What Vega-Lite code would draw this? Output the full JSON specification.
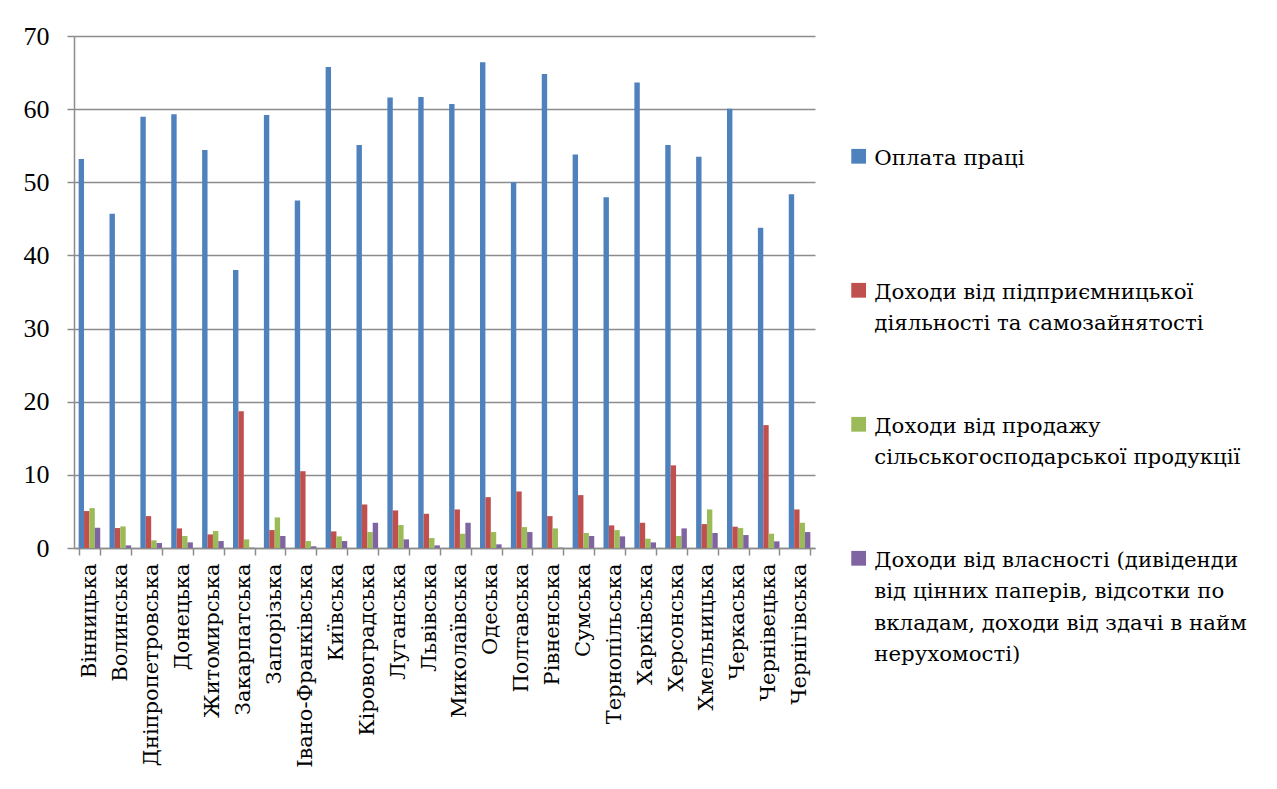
{
  "$schema": "https://vega.github.io/schema/vega-lite/v6.json",
  "width": 741,
  "height": 512,
  "autosize": "none",
  "padding": {"left": 74, "top": 36, "right": 462, "bottom": 241},
  "background": "white",
  "data": {
    "values": [
      {"region": "Вінницька", "w": 53.2, "e": 5.05, "s": 5.45, "p": 2.77},
      {"region": "Волинська", "w": 45.7, "e": 2.73, "s": 2.95, "p": 0.36},
      {"region": "Дніпропетровська", "w": 58.95, "e": 4.36, "s": 1.05, "p": 0.68},
      {"region": "Донецька", "w": 59.3, "e": 2.68, "s": 1.64, "p": 0.77},
      {"region": "Житомирська", "w": 54.4, "e": 1.86, "s": 2.32, "p": 0.95},
      {"region": "Закарпатська", "w": 38.0, "e": 18.7, "s": 1.18, "p": 0.05},
      {"region": "Запорізька", "w": 59.2, "e": 2.45, "s": 4.18, "p": 1.64},
      {"region": "Івано-Франківська", "w": 47.5, "e": 10.5, "s": 0.95, "p": 0.23},
      {"region": "Київська", "w": 65.75, "e": 2.27, "s": 1.59, "p": 0.95},
      {"region": "Кіровоградська", "w": 55.1, "e": 5.95, "s": 2.18, "p": 3.45},
      {"region": "Луганська", "w": 61.6, "e": 5.14, "s": 3.14, "p": 1.18},
      {"region": "Львівська", "w": 61.65, "e": 4.68, "s": 1.36, "p": 0.36},
      {"region": "Миколаївська", "w": 60.7, "e": 5.27, "s": 1.95, "p": 3.45},
      {"region": "Одеська", "w": 66.4, "e": 6.95, "s": 2.18, "p": 0.5},
      {"region": "Полтавська", "w": 50.0, "e": 7.73, "s": 2.86, "p": 2.18},
      {"region": "Рівненська", "w": 64.8, "e": 4.36, "s": 2.68, "p": 0.05},
      {"region": "Сумська", "w": 53.8, "e": 7.23, "s": 2.05, "p": 1.64},
      {"region": "Тернопільська", "w": 47.95, "e": 3.09, "s": 2.45, "p": 1.59},
      {"region": "Харківська", "w": 63.65, "e": 3.45, "s": 1.27, "p": 0.77},
      {"region": "Херсонська", "w": 55.1, "e": 11.3, "s": 1.64, "p": 2.68},
      {"region": "Хмельницька", "w": 53.5, "e": 3.27, "s": 5.27, "p": 2.05},
      {"region": "Черкаська", "w": 60.05, "e": 2.91, "s": 2.73, "p": 1.77},
      {"region": "Чернівецька", "w": 43.8, "e": 16.8, "s": 1.95, "p": 0.91},
      {"region": "Чернігівська", "w": 48.35, "e": 5.27, "s": 3.45, "p": 2.18}
    ]
  },
  "transform": [{"fold": ["w", "e", "s", "p"], "as": ["series", "value"]}],
  "mark": {"type": "bar"},
  "encoding": {
    "x": {
      "field": "region",
      "type": "nominal",
      "sort": null,
      "scale": {"paddingInner": 0.3, "paddingOuter": 0.15},
      "axis": {
        "title": null,
        "labelAngle": -90,
        "labelAlign": "right",
        "labelBaseline": "middle",
        "labelFont": "DejaVu Serif",
        "labelFontSize": 21,
        "labelPadding": 8,
        "labelLimit": 400,
        "labelOverlap": false,
        "tickBand": "extent",
        "tickSize": 7
      }
    },
    "xOffset": {
      "field": "series",
      "type": "nominal",
      "sort": ["w", "e", "s", "p"],
      "scale": {"paddingInner": 0, "paddingOuter": 0}
    },
    "y": {
      "field": "value",
      "type": "quantitative",
      "scale": {"domain": [0, 70], "nice": false},
      "axis": {
        "title": null,
        "values": [0, 10, 20, 30, 40, 50, 60, 70],
        "grid": true,
        "labelFont": "Liberation Serif",
        "labelFontSize": 26,
        "labelPadding": 18,
        "tickSize": 7
      }
    },
    "color": {
      "field": "series",
      "type": "nominal",
      "sort": ["w", "e", "s", "p"],
      "scale": {
        "domain": ["w", "e", "s", "p"],
        "range": ["#4F81BD", "#C0504D", "#9BBB59", "#8064A2"]
      },
      "legend": {
        "title": null,
        "orient": "none",
        "legendX": 774,
        "legendY": 101,
        "direction": "vertical",
        "columns": 1,
        "gridAlign": "all",
        "rowPadding": 7,
        "padding": 0,
        "symbolType": "M-1,0.17L1,0.17L1,2.17L-1,2.17Z",
        "symbolSize": 218,
        "symbolStrokeWidth": 0,
        "labelFont": "DejaVu Serif",
        "labelFontSize": 21.3,
        "labelColor": "black",
        "labelBaseline": "top",
        "labelOffset": 5,
        "labelLimit": 500,
        "labelExpr": "datum.label == 'w' ? ['Оплата праці'] : datum.label == 'e' ? ['Доходи від підприємницької', 'діяльності та самозайнятості'] : datum.label == 's' ? ['Доходи від продажу', 'сільськогосподарської продукції'] : ['Доходи від власності (дивіденди', 'від цінних паперів, відсотки по', 'вкладам, доходи від здачі в найм', 'нерухомості)']"
      }
    }
  },
  "config": {
    "view": {"stroke": null},
    "axis": {
      "labelColor": "black",
      "domainColor": "#8c8c8c",
      "domainWidth": 1.5,
      "tickColor": "#8c8c8c",
      "tickWidth": 1.5,
      "gridColor": "#8c8c8c",
      "gridWidth": 1.5
    },
    "style": {"guide-label": {"lineHeight": 31.5}}
  }
}
